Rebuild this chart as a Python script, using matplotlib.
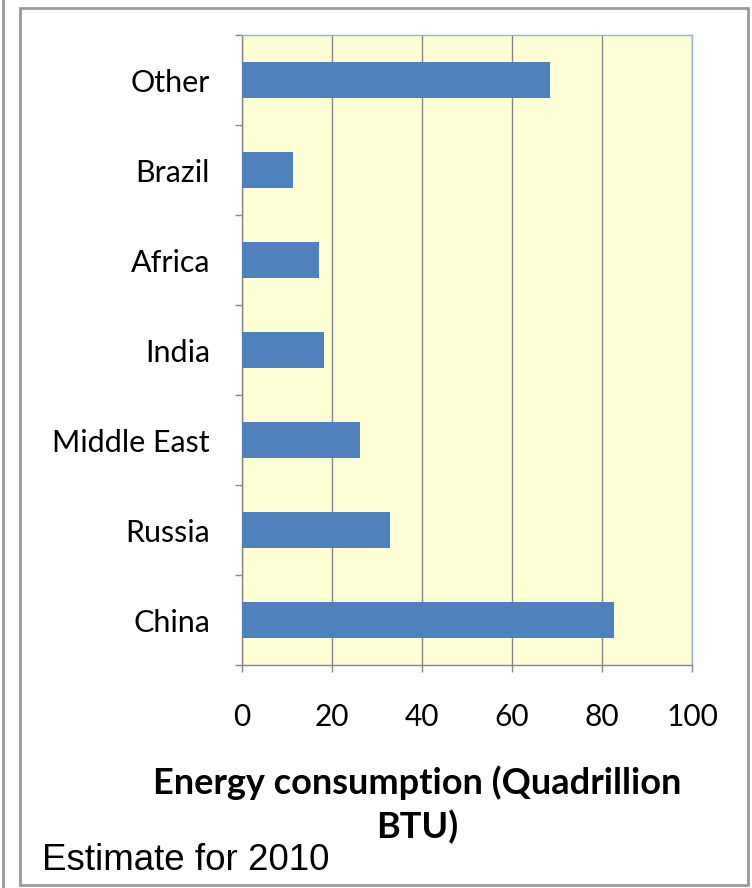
import matplotlib
matplotlib.use("Agg")
import matplotlib.pyplot as plt
from matplotlib.patches import Rectangle
from matplotlib.lines import Line2D

categories = ["China", "Russia", "Middle East", "India", "Africa", "Brazil", "Other"]
values = [82.7, 32.8, 26.3, 18.3, 17.0, 11.3, 68.5]
xticks = [0, 20, 40, 60, 80, 100]
xlabel = "Energy consumption (Quadrillion\nBTU)"
note = "Estimate for 2010"

W, H = 752, 888
fig = plt.figure(figsize=(W / 100, H / 100), dpi=100)
fig.patch.set_facecolor("white")

# outer frames
fig.add_artist(Rectangle((20 / W, 1 - 885 / H), (748 - 20) / W, (885 - 8) / H,
                         transform=fig.transFigure, fill=False,
                         edgecolor="#9a9a9a", linewidth=2))
fig.add_artist(Line2D([3 / W, 3 / W], [0, 1], transform=fig.transFigure,
                      color="#9a9a9a", linewidth=2))

ax = fig.add_axes([242 / W, 1 - 665 / H, (692 - 242) / W, (665 - 35) / H])
ax.set_facecolor("#FFFFD5")
pos = list(range(len(categories)))
ax.barh(pos, values, height=0.4, color="#4F81BD", zorder=3)
ax.set_xlim(0, 100)
ax.set_ylim(-0.5, len(categories) - 0.5)
ax.set_xticks(xticks)
ax.set_xticklabels([str(t) for t in xticks], fontfamily="Lato", fontsize=21.5)
ax.set_yticks(pos)
ax.set_yticklabels(categories, fontfamily="Lato", fontsize=22)
ax.set_yticks([p - 0.5 for p in pos] + [len(categories) - 0.5], minor=True)
ax.tick_params(axis="y", which="major", length=0, pad=23)
ax.tick_params(axis="y", which="minor", length=5, width=1, color="#868686", direction="out")
ax.tick_params(axis="x", which="major", length=5, width=1, color="#868686", direction="out", pad=22)
ax.xaxis.grid(True, color="#868686", linewidth=1, zorder=1)
ax.set_axisbelow(True)
for s in ["left", "bottom"]:
    ax.spines[s].set_color("#868686")
    ax.spines[s].set_linewidth(1)
for s in ["top", "right"]:
    ax.spines[s].set_color("#95B3D7")
    ax.spines[s].set_linewidth(1)

fig.text(417 / W, 1 - 805 / H, xlabel, ha="center", va="center",
         fontfamily="Lato", fontweight="bold", fontsize=26, linespacing=1.35)
fig.text(42 / W, 1 - 860 / H, note, ha="left", va="center",
         fontfamily="Liberation Sans", fontsize=26.5)

fig.savefig("out.png", dpi=100)
